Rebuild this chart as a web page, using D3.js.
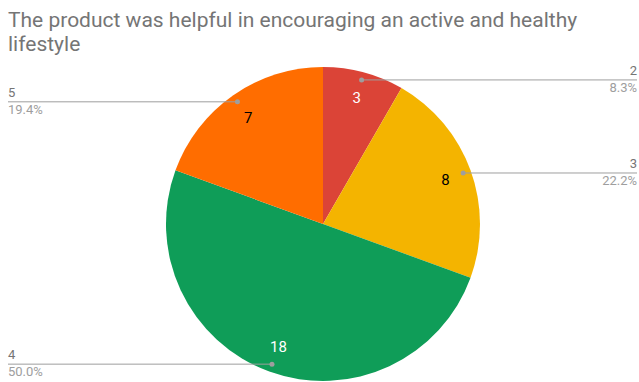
<!DOCTYPE html>
<html>
<head>
<meta charset="utf-8">
<script src="https://cdn.jsdelivr.net/npm/d3@7"></script>
<style>
  body { margin: 0; background: #fff; }
  svg { display: block; font-family: Roboto, "Noto Sans", sans-serif; }
</style>
</head>
<body>
<div id="pie_chart"></div>
<script>
// chart data
const categories = ["2", "3", "4", "5"];
const counts = [3, 8, 18, 7];
const colors = ["#db4437", "#f4b400", "#0f9d58", "#ff6d00"];
const valueColors = ["#ffffff", "#000000", "#ffffff", "#000000"];

const width = 639, height = 382;
const cx = 323, cy = 224, radius = 157;

const svg = d3.select("#pie_chart")
    .append("svg")
    .attr("width", width)
    .attr("height", height);

// title
const title = svg.append("text")
    .attr("x", 8)
    .attr("fill", "#757575")
    .style("font-size", "21px");
title.append("tspan").attr("x", 8).attr("y", 27)
    .text("The product was helpful in encouraging an active and healthy");
title.append("tspan").attr("x", 8).attr("y", 51)
    .text("lifestyle");

const total = d3.sum(counts);
const data = categories.map((c, i) => ({cat: c, value: counts[i], i: i}));

const pie = d3.pie()
    .value(d => d.value)
    .sort(null);
const data_ready = pie(data);

const g = svg.append("g")
    .attr("transform", `translate(${cx}, ${cy})`);

const arcGenerator = d3.arc()
    .innerRadius(0)
    .outerRadius(radius);

g.selectAll("path")
    .data(data_ready)
    .join("path")
    .attr("d", arcGenerator)
    .attr("fill", d => colors[d.data.i]);

// value labels inside slices
const labelArc = d3.arc().innerRadius(radius * 0.83).outerRadius(radius * 0.83);
g.selectAll("text.val")
    .data(data_ready)
    .join("text")
    .attr("class", "val")
    .attr("transform", d => `translate(${labelArc.centroid(d)})`)
    .attr("text-anchor", "middle")
    .attr("dy", "0.35em")
    .attr("fill", d => valueColors[d.data.i])
    .style("font-size", "15px")
    .text(d => d.data.value);

// leader lines with dots
const dotArc = d3.arc().innerRadius(radius * 0.95).outerRadius(radius * 0.95);
const leaders = svg.append("g");
data_ready.forEach(d => {
    const p = dotArc.centroid(d);
    const x = cx + p[0], y = cy + p[1];
    const right = p[0] > 0;
    const xEnd = right ? 637 : 8;
    leaders.append("line")
        .attr("x1", x).attr("y1", y)
        .attr("x2", xEnd).attr("y2", y)
        .attr("stroke", "#9e9e9e")
        .attr("stroke-width", 1);
    leaders.append("circle")
        .attr("cx", x).attr("cy", y)
        .attr("r", 2.5)
        .attr("fill", "#9e9e9e");
    const anchor = right ? "end" : "start";
    leaders.append("text")
        .attr("x", xEnd).attr("y", y - 5)
        .attr("text-anchor", anchor)
        .attr("fill", "#757575")
        .style("font-size", "13px")
        .text(d.data.cat);
    leaders.append("text")
        .attr("x", xEnd).attr("y", y + 12)
        .attr("text-anchor", anchor)
        .attr("fill", "#9e9e9e")
        .style("font-size", "13px")
        .text((d.data.value / total * 100).toFixed(1) + "%");
});
</script>
</body>
</html>
